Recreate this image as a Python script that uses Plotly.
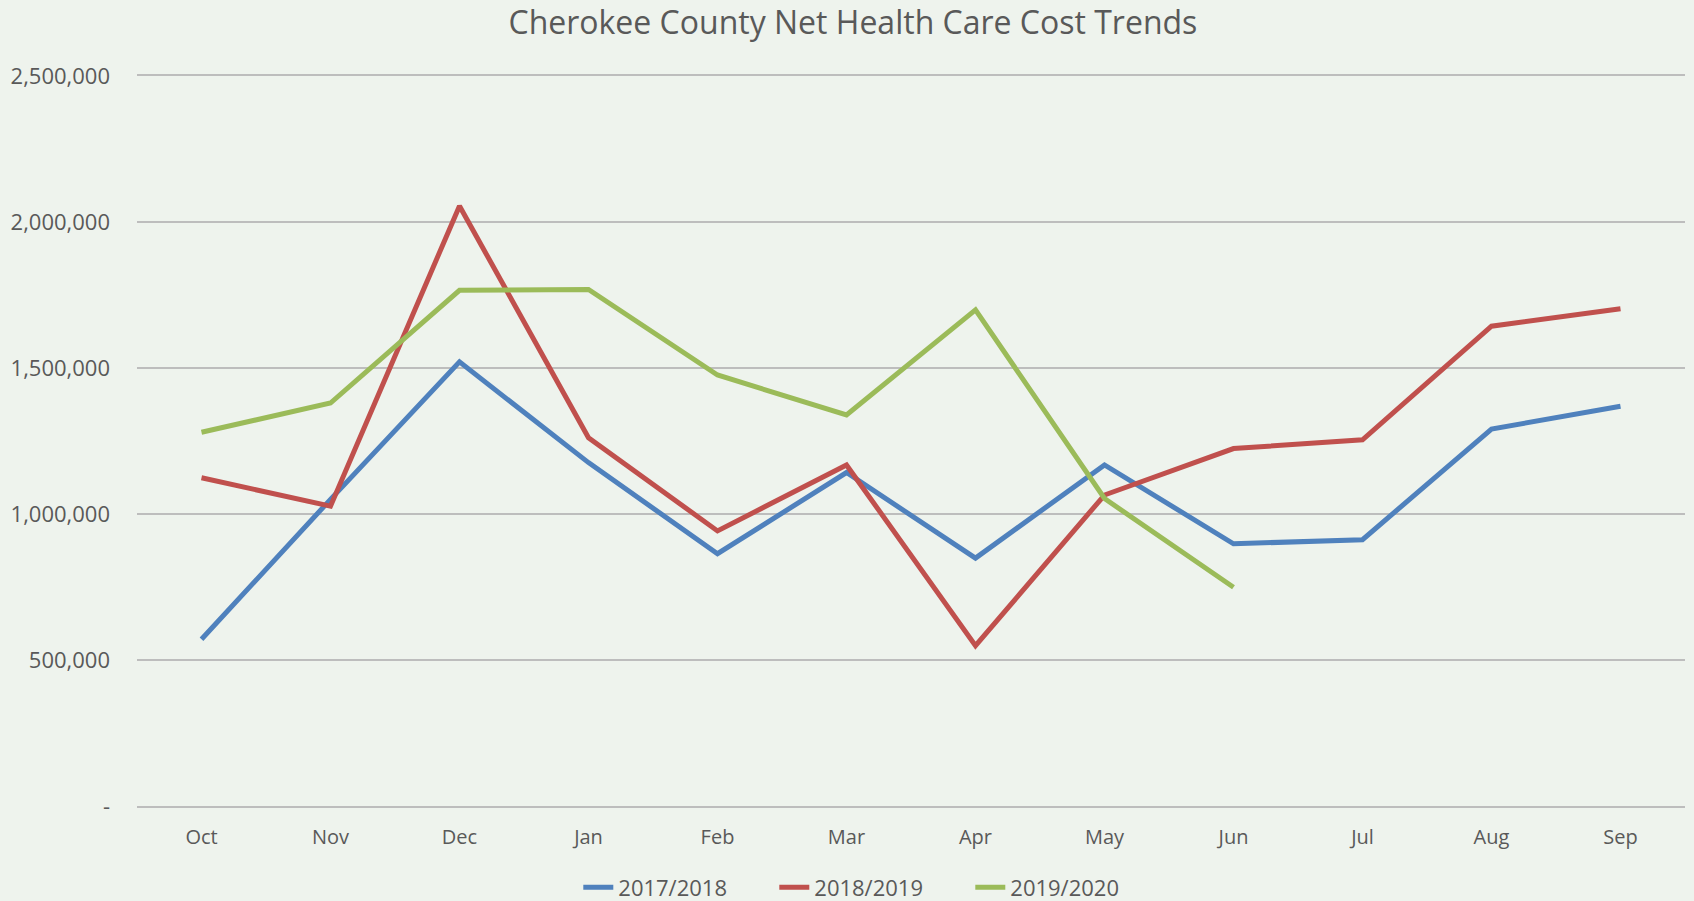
import plotly.graph_objects as go

months = ["Oct", "Nov", "Dec", "Jan", "Feb", "Mar", "Apr", "May", "Jun", "Jul", "Aug", "Sep"]
fy_2017_2018 = [571000, 1050000, 1521000, 1176000, 864000, 1142000, 849000, 1168000, 898000, 912000, 1291000, 1369000]
fy_2018_2019 = [1124000, 1027000, 2055000, 1261000, 942000, 1168000, 549000, 1065000, 1224000, 1254000, 1643000, 1703000]
fy_2019_2020 = [1280000, 1380000, 1766000, 1769000, 1476000, 1339000, 1699000, 1053000, 749000]
series_names = ["2017/2018", "2018/2019", "2019/2020"]
series_colors = ["#4f81bd", "#c0504d", "#9bbb59"]
y_tickvals = [0, 500000, 1000000, 1500000, 2000000, 2500000]
y_ticktext = ["-", "500,000", "1,000,000", "1,500,000", "2,000,000", "2,500,000"]
title_text = "Cherokee County Net Health Care Cost Trends"

bg = "#eef3ed"
text_color = "#595959"
grid_color = "#bdbdbd"

fig = go.Figure()
for name, vals, col in zip(series_names, [fy_2017_2018, fy_2018_2019, fy_2019_2020], series_colors):
    fig.add_trace(go.Scatter(
        x=months[:len(vals)], y=vals, name=name, mode="lines",
        line=dict(color=col, width=5),
    ))

fig.update_layout(
    width=1694, height=901,
    paper_bgcolor=bg, plot_bgcolor=bg,
    margin=dict(l=137, r=9, t=76, b=95),
    title=dict(text=title_text, x=0.5035, xanchor="center", y=0.975, yanchor="middle",
               font=dict(family="Open Sans", size=32, color=text_color)),
    font=dict(family="Open Sans", color=text_color),
    showlegend=True,
    legend=dict(orientation="h", x=0.475, xanchor="center", yref="container", y=0.015, yanchor="middle",
                font=dict(family="Open Sans", size=22, color=text_color),
                entrywidth=151, entrywidthmode="pixels", itemwidth=30,
                tracegroupgap=0, bgcolor="rgba(0,0,0,0)"),
    xaxis=dict(type="category", categoryorder="array", categoryarray=months,
               range=[-0.5, 11.5], showgrid=False, zeroline=False,
               showline=True, mirror=True, linecolor=grid_color, linewidth=2,
               ticks="", tickfont=dict(size=20, color=text_color), ticklabelstandoff=12),
    yaxis=dict(range=[0, 2500000], tickvals=y_tickvals, ticktext=y_ticktext,
               showgrid=True, gridcolor=grid_color, gridwidth=2, zeroline=False,
               showline=False, ticks="", tickfont=dict(size=22, color=text_color),
               ticklabelstandoff=26),
)

fig.write_html("out.html")
